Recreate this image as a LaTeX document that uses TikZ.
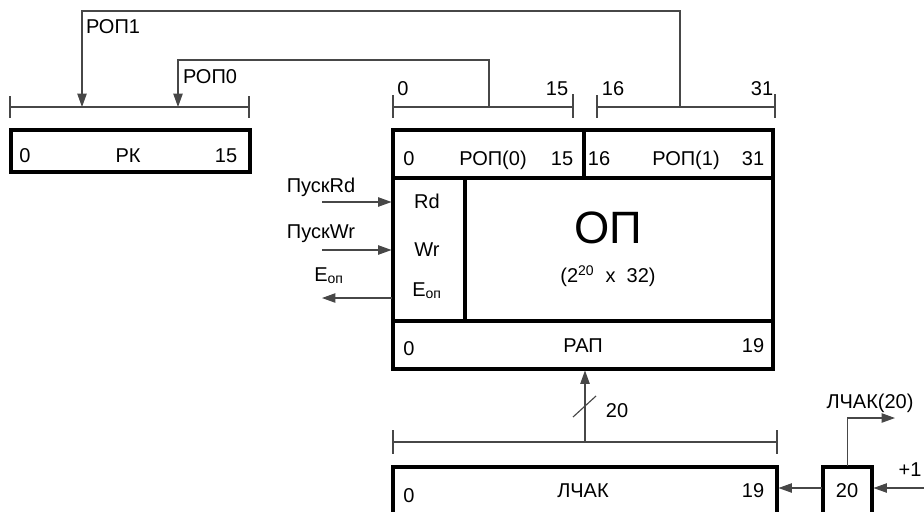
\documentclass[tikz,border=0pt]{standalone}
\usepackage{fontspec}
\setmainfont{Liberation Sans}
\usetikzlibrary{arrows.meta,positioning,calc}
\newlength{\px}
\setlength{\px}{.75pt}

\begin{document}
\begin{tikzpicture}[x=.75pt,y=-.75pt,
  font=\fontsize{15}{17}\selectfont,
  reg/.style={draw,line width=2.3pt,inner sep=0pt,outer sep=0pt},
  txt/.style={anchor=base,inner sep=0pt},
  wire/.style={draw=black!72,line width=.85pt},
  flow/.style={wire,-{Triangle[length=10pt,width=7pt]}}]

\path[use as bounding box] (0,0) rectangle (924,511);

% registers
\node[reg,minimum width=239\px,minimum height=42\px] (rk) at (130.5,151) {};
\node[reg,minimum width=191\px,minimum height=48\px] (rop0) at (488.5,154) {};
\node[reg,minimum width=189\px,minimum height=48\px] (rop1) at (678.5,154) {};
\node[reg,minimum width=72\px,minimum height=143\px] (ctl) at (429,249.5) {};
\node[reg,minimum width=308\px,minimum height=143\px] (mem) at (619,249.5) {};
\node[reg,minimum width=380\px,minimum height=48\px] (rap) at (583,345) {};
\node[reg,minimum width=384\px,minimum height=63\px] (lchak) at (585,498.5) {};
\node[reg,minimum width=49\px,minimum height=63\px] (cnt) at (847.5,498.5) {};

\node[txt] (rkl) at (25,162) {0};
\node[txt] (rkn) at (128,162) {РК};
\node[txt] (rkr) at (226,162) {15};
\node[txt] (rop0l) at (409,165) {0};
\node[txt] (rop0n) at (493,165) {РОП(0)};
\node[txt] (rop0r) at (562,165) {15};
\node[txt] (rop1l) at (599,165) {16};
\node[txt] (rop1n) at (686,165) {РОП(1)};
\node[txt] (rop1r) at (753,165) {31};
\node[txt] (rd) at (427,208) {Rd};
\node[txt] (wr) at (427,256) {Wr};
\node[txt] (eop) at (427,296) {E\textsubscript{оп}};
\node[txt,font=\fontsize{34}{38}\selectfont] (opn) at (608,243) {ОП};
\node[txt] (opsz) at (608,282) {(2\textsuperscript{20}\ \ x\ \ 32)};
\node[txt] (rapl) at (409,355) {0};
\node[txt] (rapn) at (583,352) {РАП};
\node[txt] (rapr) at (753,352) {19};
\node[txt] (lchl) at (409,502) {0};
\node[txt] (lchn) at (583,497) {ЛЧАК};
\node[txt] (lchr) at (753,497) {19};
\node[txt] (cntn) at (847,497) {20};

% bit rulers
\draw[wire] (10,96)--(10,118) (10,107)--(249,107) (249,96)--(249,118);
\draw[wire] (393,95)--(393,118) (393,107)--(573,107) (573,94)--(573,118);
\draw[wire] (597,95)--(597,118) (597,107)--(775,107) (775,94)--(775,118);
\draw[wire] (393,430)--(393,454) (393,442)--(777,442) (777,430)--(777,454);
\node[txt] (b0l) at (403,95) {0};
\node[txt] (b0r) at (557,95) {15};
\node[txt] (b1l) at (613,95) {16};
\node[txt] (b1r) at (762,95) {31};

\coordinate (tap0) at (489,107);
\coordinate (tap1) at (680,107);
\coordinate (rkin0) at (178,107);
\coordinate (rkin1) at (82,107);
\draw[flow] (tap1) -- ++(0,-96) -| (rkin1);
\draw[flow] (tap0) -- ++(0,-47) -| (rkin0);
\node[txt] (rop1lab) at (113,33) {РОП1};
\node[txt] (rop0lab) at (210,83) {РОП0};

% control signals
\coordinate (rdin) at (322,202);
\coordinate (wrin) at (322,250);
\coordinate (eout) at (322,298);
\draw[flow,shorten >=1.1pt] (rdin) -- (rdin -| ctl.west);
\draw[flow,shorten >=1.1pt] (wrin) -- (wrin -| ctl.west);
\draw[flow,shorten <=1.1pt] (eout -| ctl.west) -- (eout);
\node[txt] (rdlab) at (321,192) {ПускRd};
\node[txt] (wrlab) at (321,238) {ПускWr};
\node[txt] (elab) at (329,281) {E\textsubscript{оп}};

% address path
\coordinate (abus) at (585,442);
\draw[flow,shorten >=1.1pt] (abus) -- (abus |- rap.south);
\draw[wire] (573,417) -- (596,396);
\node[txt] (abw) at (617,417) {20};

% counter
\coordinate (inc) at (924,488);
\coordinate (ovf) at (895,418);
\draw[flow,shorten >=1.1pt] (inc) -- (inc -| cnt.east);
\draw[flow,shorten <=1.1pt,shorten >=1.1pt] (inc -| cnt.west) -- (inc -| lchak.east);
\draw[flow,shorten <=1.1pt] (cnt.north) |- (ovf);
\node[txt] (inclab) at (910,476) {+1};
\node[txt] (ovflab) at (870,408) {ЛЧАК(20)};

\end{tikzpicture}
\end{document}
